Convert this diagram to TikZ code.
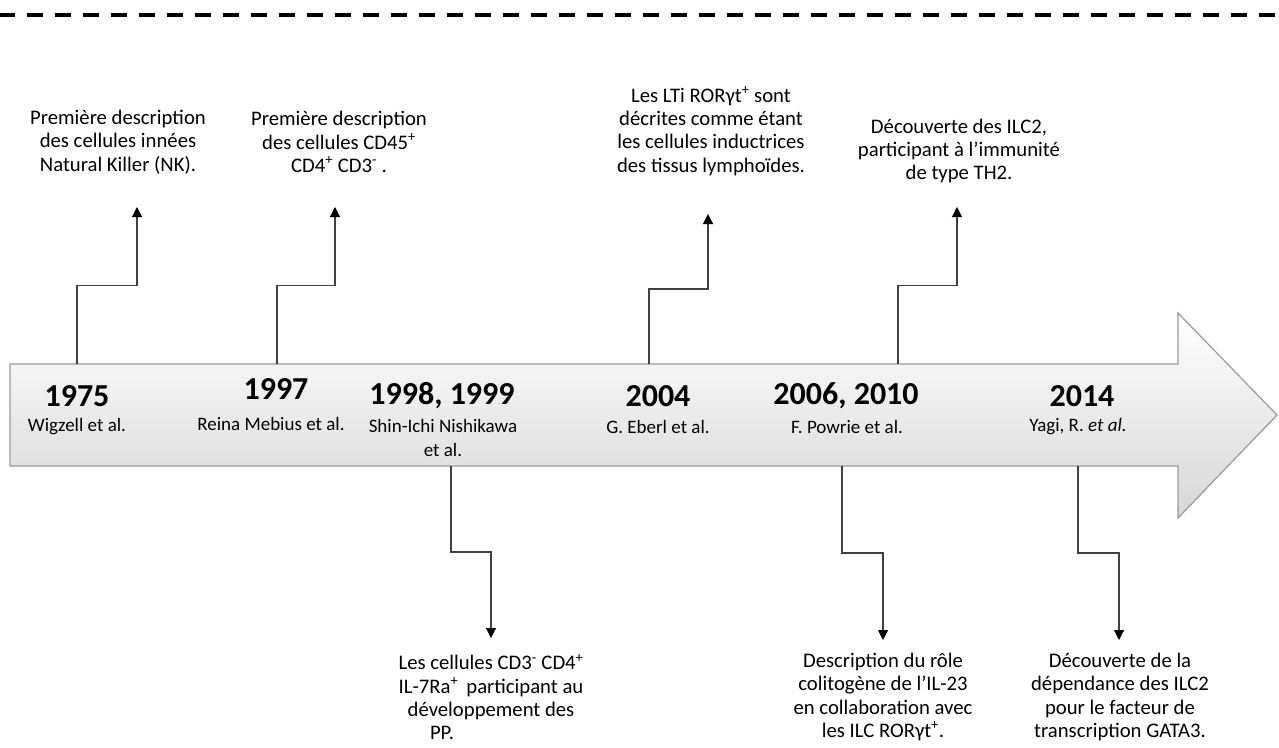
\documentclass[tikz,border=0pt]{standalone}
\usepackage{fontspec}
\setmainfont{Carlito}
\usetikzlibrary{calc}
\usetikzlibrary{arrows.meta}
\definecolor{leadgray}{rgb}{0.25,0.25,0.25}
\definecolor{rimgray}{rgb}{0.6,0.6,0.6}
\definecolor{shadegray}{rgb}{0.84,0.84,0.84}
\tikzset{every node/.style={font=\fontsize{19}{23.3}\selectfont,align=center,inner sep=0pt}}
\tikzset{year/.style={font=\fontsize{32}{36}\selectfont\bfseries}}
\tikzset{desc/.style={font=\fontsize{20.7}{23.3}\selectfont}}
\tikzset{leader/.style={line width=1.1pt,color=leadgray,-{Triangle[width=10pt,length=10pt,color=black]}}}

\begin{document}
\begin{tikzpicture}[line join=miter,x=1pt,y=-1pt]
            \useasboundingbox (0,0) rectangle (1279,747);
            % dashed rule on top
            \draw [line width=4pt,dash pattern=on 16pt off 12pt,dash phase=1.3pt] (0,15) -- (1279,15);
            % the time arrow
            \shade [top color=white,bottom color=shadegray,draw=rimgray,line width=1.2pt] (10,364) -- (1178,364) -- (1178,313) -- (1277,415) -- (1178,518) -- (1178,466) -- (10,466) -- cycle;
            % years and authors
            \node[year] (y1975) at (77,396) {1975};
            \node (a1975) at (77,427) {Wigzell et al.};
            \node[year] (y1997) at (276,389) {1997};
            \node (a1997) at (271,424) {Reina Mebius et al.};
            \node[year] (y1998) at (442,396) {1998, 1999};
            \node (a1998) at (443,438) {Shin-Ichi Nishikawa\\et al.};
            \node[year] (y2004) at (658,396) {2004};
            \node (a2004) at (658,427) {G. Eberl et al.};
            \node[year] (y2006) at (846,396) {2006, 2010};
            \node (a2006) at (847,427) {F. Powrie et al.};
            \node[year] (y2014) at (1082,396) {2014};
            \node (a2014) at (1078,427) {Yagi, R. \textit{et al.}};
            % texts above
            \node[desc] (t1975) at (118,142) {Première description\\des cellules innées\\Natural Killer (NK).};
            \node[desc] (t1997) at (339,142) {Première description\\des cellules CD45\textsuperscript{+}\\CD4\textsuperscript{+} CD3\textsuperscript{-} .};
            \node[desc] (t2004) at (711,131) {Les LTi RORγt\textsuperscript{+} sont\\décrites comme étant\\les cellules inductrices\\des tissus lymphoïdes.};
            \node[desc] (t2006) at (959,151) {Découverte des ILC2,\\participant à l’immunité\\de type TH2.};
            % texts below
            \node[desc] (b1998) at (491,697) {Les cellules CD3\textsuperscript{-} CD4\textsuperscript{+}\\IL-7Ra\textsuperscript{+}\, participant au\\développement des\\PP.\hspace*{98pt}};
            \node[desc] (b2006) at (883,697) {Description du rôle\\colitogène de l’IL-23\\en collaboration avec\\les ILC RORγt\textsuperscript{+}.};
            \node[desc] (b2014) at (1120,697) {Découverte de la\\dépendance des ILC2\\pour le facteur de\\transcription GATA3.};
            % leader ends
            \coordinate (s1975) at (77,364);
            \coordinate (e1975) at (137,207);
            \coordinate (s1997) at (277,364);
            \coordinate (e1997) at (335,207);
            \coordinate (s2004) at (649,364);
            \coordinate (e2004) at (708,214);
            \coordinate (s2006) at (898,364);
            \coordinate (e2006) at (957,207);
            \coordinate (s1998) at (451,466);
            \coordinate (e1998) at (491,638);
            \coordinate (s2010) at (842,466);
            \coordinate (e2010) at (883,640);
            \coordinate (s2014) at (1078,466);
            \coordinate (e2014) at (1119,640);
            % leaders
            \draw[leader] (s1975) |- ($(s1975)!.5!(e1975)$) -| (e1975);
            \draw[leader] (s1997) |- ($(s1997)!.5!(e1997)$) -| (e1997);
            \draw[leader] (s2004) |- ($(s2004)!.5!(e2004)$) -| (e2004);
            \draw[leader] (s2006) |- ($(s2006)!.5!(e2006)$) -| (e2006);
            \draw[leader] (s1998) |- ($(s1998)!.5!(e1998)$) -| (e1998);
            \draw[leader] (s2010) |- ($(s2010)!.5!(e2010)$) -| (e2010);
            \draw[leader] (s2014) |- ($(s2014)!.5!(e2014)$) -| (e2014);
\end{tikzpicture}
\end{document}
